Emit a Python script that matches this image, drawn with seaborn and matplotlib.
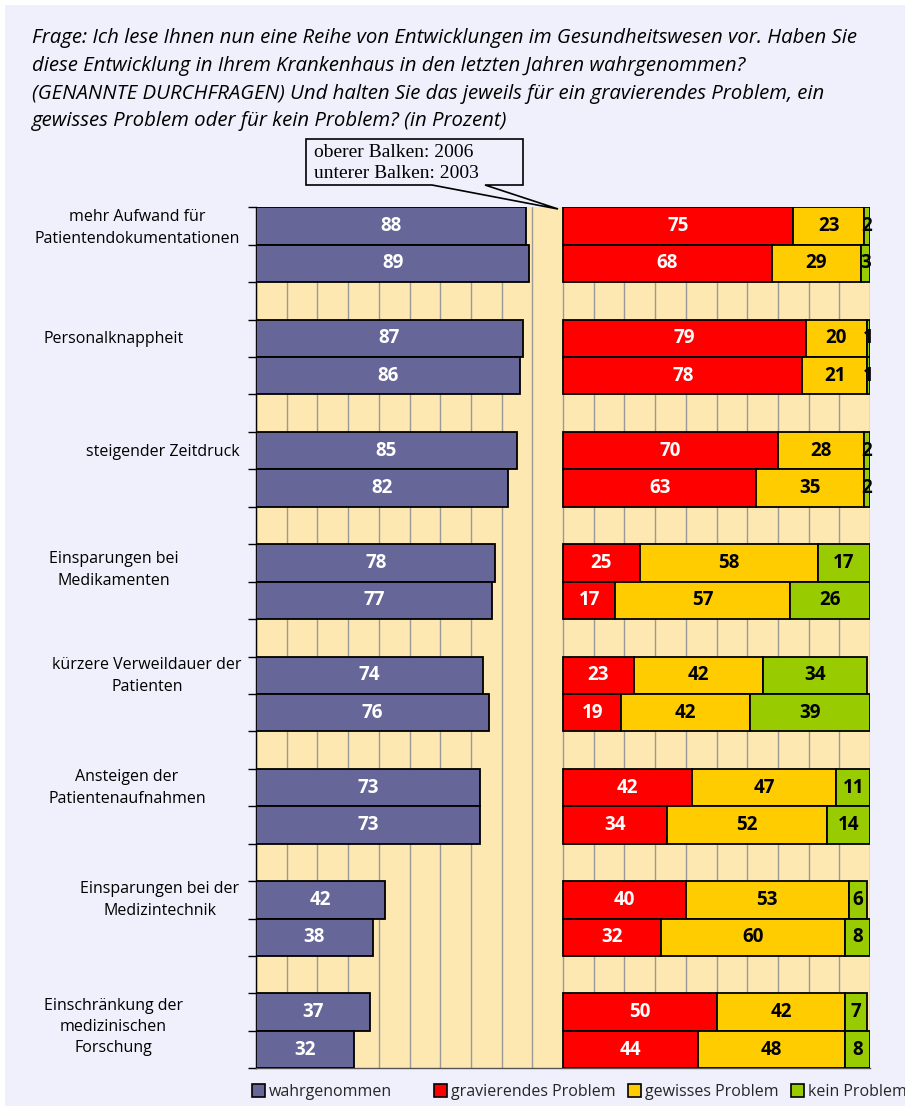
import numpy as np
import pandas as pd
import matplotlib
matplotlib.use("Agg")
import matplotlib.pyplot as plt
from matplotlib.patches import Rectangle, Patch, Polygon
from matplotlib import font_manager as fm
import seaborn as sns

# ---------------- data ----------------
categories = [
    "mehr Aufwand für\nPatientendokumentationen",
    "Personalknappheit",
    "steigender Zeitdruck",
    "Einsparungen bei\nMedikamenten",
    "kürzere Verweildauer der\nPatienten",
    "Ansteigen der\nPatientenaufnahmen",
    "Einsparungen bei der\nMedizintechnik",
    "Einschränkung der\nmedizinischen\nForschung",
]
years = ["2006", "2003"]
wahr_2006 = [88, 87, 85, 78, 74, 73, 42, 37]
wahr_2003 = [89, 86, 82, 77, 76, 73, 38, 32]
grav_2006 = [75, 79, 70, 25, 23, 42, 40, 50]
grav_2003 = [68, 78, 63, 17, 19, 34, 32, 44]
gew_2006 = [23, 20, 28, 58, 42, 47, 53, 42]
gew_2003 = [29, 21, 35, 57, 42, 52, 60, 48]
kein_2006 = [2, 1, 2, 17, 34, 11, 6, 7]
kein_2003 = [3, 1, 2, 26, 39, 14, 8, 8]
legend_labels = ["wahrgenommen", "gravierendes Problem", "gewisses Problem", "kein Problem"]
title_text = ("Frage: Ich lese Ihnen nun eine Reihe von Entwicklungen im Gesundheitswesen vor. Haben Sie\n"
              "diese Entwicklung in Ihrem Krankenhaus in den letzten Jahren wahrgenommen?\n"
              "(GENANNTE DURCHFRAGEN) Und halten Sie das jeweils für ein gravierendes Problem, ein\n"
              "gewisses Problem oder für kein Problem? (in Prozent)")
note_text = "oberer Balken: 2006\nunterer Balken: 2003"

# ---------------- style ----------------
C_BG = "#f0f0fc"
C_WHEAT = "#fde8b2"
C_PURPLE = "#666699"
C_RED = "#ff0000"
C_YEL = "#ffcc00"
C_GRN = "#99cc00"

sns.set_theme(style="white")
names = {f.name for f in fm.fontManager.ttflist}
SANS = "Open Sans" if "Open Sans" in names else "DejaVu Sans"
TITLE_FONT = "Liberation Sans Narrow" if "Liberation Sans Narrow" in names else SANS
SERIF = "Liberation Serif" if "Liberation Serif" in names else "DejaVu Serif"
plt.rcParams["font.family"] = [SANS, "DejaVu Sans"]

W, H = 905, 1106
fig = plt.figure(figsize=(W / 100, H / 100), dpi=100, facecolor="white")
fig.patches.append(Rectangle((5 / W, 0), 1 - 5 / W, 1 - 5 / H, transform=fig.transFigure,
                             facecolor=C_BG, edgecolor="none", zorder=-10))

def fx(px):
    return px / W

def fy(py):
    return 1 - py / H

ax_l, ax_r, ax_t, ax_b = 256, 870, 207.3, 1068.3
ax = fig.add_axes([fx(ax_l), fy(ax_b), fx(ax_r) - fx(ax_l), fy(ax_t) - fy(ax_b)])
ax.set_facecolor(C_WHEAT)

# ---------------- long data ----------------
rows = []
for i, cat in enumerate(categories):
    for j, yr in enumerate(years):
        w = (wahr_2006, wahr_2003)[j][i]
        g = (grav_2006, grav_2003)[j][i]
        ge = (gew_2006, gew_2003)[j][i]
        k = (kein_2006, kein_2003)[j][i]
        ypos = i * 3 + j + 0.5
        rows.append(dict(cat=cat, year=yr, ypos=ypos, measure="wahr", value=w, left=0))
        rows.append(dict(cat=cat, year=yr, ypos=ypos, measure="grav", value=g, left=100))
        rows.append(dict(cat=cat, year=yr, ypos=ypos, measure="gew", value=ge, left=100 + g))
        rows.append(dict(cat=cat, year=yr, ypos=ypos, measure="kein", value=k, left=100 + g + ge))
df = pd.DataFrame(rows)

spec = [("wahr", C_PURPLE, "white"), ("grav", C_RED, "white"),
        ("gew", C_YEL, "black"), ("kein", C_GRN, "black")]
for meas, col, tcol in spec:
    sub = df[df.measure == meas].sort_values("ypos").reset_index(drop=True)
    sns.barplot(data=sub, x="value", y="ypos", orient="h", native_scale=True,
                width=1, color=col, saturation=1, errorbar=None,
                left=sub["left"].to_numpy(), edgecolor="black", linewidth=1.3,
                ax=ax, zorder=3)
    cont = ax.containers[-1]
    ax.bar_label(cont, labels=[str(v) for v in sub["value"]], label_type="center",
                 color=tcol, fontsize=13.5, fontweight="bold", family=SANS, zorder=5)

ax.set_xlim(0, 200)
ax.set_ylim(23, 0)
ax.set_xticks(np.arange(0, 201, 10))
ax.set_yticks(np.arange(0, 24, 1))
ax.set_xticklabels([])
ax.set_yticklabels([])
ax.set_xlabel("")
ax.set_ylabel("")
ax.grid(axis="x", color="#9a9a9a", linewidth=1)
ax.grid(axis="y", visible=False)
ax.set_axisbelow(True)
ax.tick_params(axis="x", length=0)
ax.tick_params(axis="y", direction="out", length=6, width=1, color="black", left=True)
for s in ["top", "right"]:
    ax.spines[s].set_visible(False)
ax.spines["left"].set_color("black")
ax.spines["left"].set_linewidth(1)
ax.spines["bottom"].set_color("#555555")
ax.spines["bottom"].set_linewidth(1)

# ---------------- category labels ----------------
label_xc = [137, 113.5, 162.5, 113.5, 147, 127, 160, 113.5]
label_yc = [228, 339, 452, 570, 676, 788, 900, 1027]
for cat, xc, yc in zip(categories, label_xc, label_yc):
    fig.text(fx(xc), fy(yc), cat, ha="center", va="center", fontsize=11.5,
             linespacing=1.44, color="black", multialignment="center")

# ---------------- title ----------------
fig.text(fx(32), fy(28.5), title_text, ha="left", va="top", fontsize=14.65,
         style="italic", family=[TITLE_FONT, "DejaVu Sans"], linespacing=1.5,
         color="black")

# ---------------- note box with pointer ----------------
pts = [(306, 139), (523, 139), (523, 185), (485, 185), (558, 209), (432, 185), (306, 185)]
poly = Polygon([(fx(x), fy(y)) for x, y in pts], closed=True, transform=fig.transFigure,
               facecolor=C_BG, edgecolor="black", linewidth=1.2, zorder=6)
fig.patches.append(poly)
fig.text(fx(314), fy(163), note_text, ha="left", va="center", fontsize=14,
         family=[SERIF], linespacing=1.32, color="black", zorder=7)

# ---------------- legends ----------------
def handle(c):
    return Patch(facecolor=c, edgecolor="black", linewidth=1.2)

leg1 = fig.legend([handle(C_PURPLE)], [legend_labels[0]], loc="center left",
                  bbox_to_anchor=(fx(252), fy(1092)), frameon=False, fontsize=11.5,
                  handlelength=0.8, handleheight=0.8, handletextpad=0.25,
                  borderpad=0, borderaxespad=0)
leg2 = fig.legend([handle(C_RED), handle(C_YEL), handle(C_GRN)], legend_labels[1:],
                  loc="center left", ncol=3, bbox_to_anchor=(fx(434), fy(1092)),
                  frameon=False, fontsize=11.5, handlelength=0.8, handleheight=0.8,
                  handletextpad=0.25, columnspacing=0.8, borderpad=0, borderaxespad=0)

fig.savefig("out.png", dpi=100, facecolor=fig.get_facecolor())
